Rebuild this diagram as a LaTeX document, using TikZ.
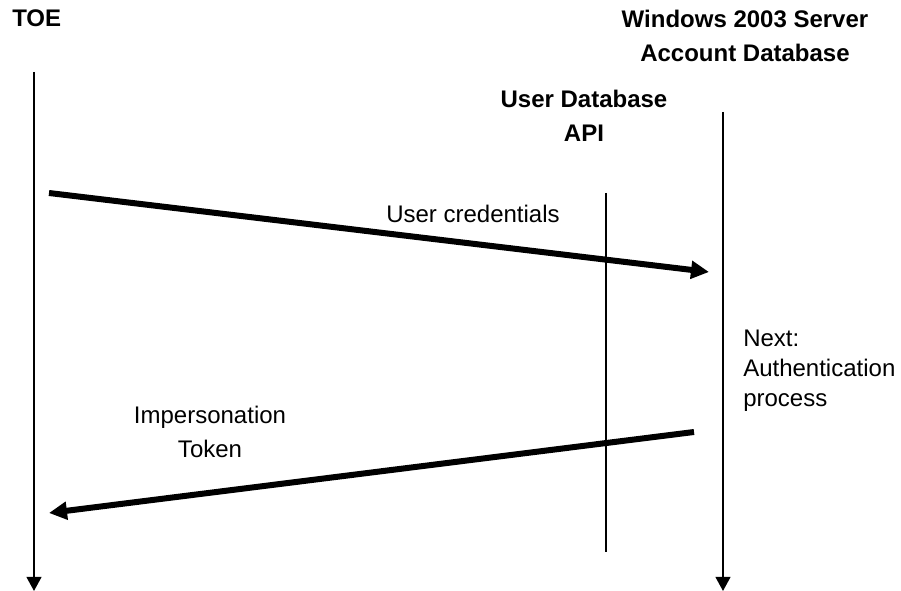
\documentclass[tikz,border=0pt]{standalone}
\usepackage{fontspec}
\setmainfont{Liberation Sans}
\usepackage{tikz}
\usetikzlibrary{arrows.meta, positioning, calc}

\tikzset{
    lifeline/.style={line width=1.5pt, -{Triangle[length=10.5pt, width=11pt]}},
    apiline/.style={line width=1.2pt},
    msg/.style={line width=4.5pt, -{Triangle[length=13.5pt, width=13pt]}},
    party/.style={font=\fontsize{18}{25.5}\selectfont\bfseries, align=center, inner sep=0pt, anchor=base},
    msglabel/.style={font=\fontsize{18}{26}\selectfont, align=center, inner sep=0pt, anchor=base}
}

\begin{document}
\begin{tikzpicture}[x=0.75pt, y=-0.75pt]
        \useasboundingbox (0,0) rectangle (901,591);

        % parties (base = last line)
        \node[party, anchor=base west] (toe) at (12,27) {TOE};
        \node[party] (server) at (745,62) {Windows 2003 Server\\Account Database};
        \node[party] (api) at (584,142) {User Database\\API};

        % lifelines
        \coordinate (toetop) at (34,72);
        \coordinate (toebot) at (34,591);
        \coordinate (srvtop) at (723,112);
        \coordinate (srvbot) at (723,591);
        \coordinate (apitop) at (606,193);
        \coordinate (apibot) at (606,552);
        \draw[lifeline] (toetop) -- (toebot);
        \draw[lifeline] (srvtop) -- (srvbot);
        \draw[apiline] (apitop) -- (apibot);

        % messages
        \coordinate (credfrom) at (49,193);
        \coordinate (credto) at (709,272);
        \coordinate (tokfrom) at (694,432);
        \coordinate (tokto) at (49,513);
        \draw[msg] (credfrom) -- (credto);
        \draw[msg] (tokfrom) -- (tokto);

        \node[msglabel] (cred) at (473,223) {User credentials};
        \node[msglabel] (tok) at (210,458) {Impersonation\\Token};
        \node[msglabel, align=left, anchor=base west, font=\fontsize{18}{22.5}\selectfont] (next) at (743,407) {Next:\\Authentication\\process};
    \end{tikzpicture}
\end{document}
